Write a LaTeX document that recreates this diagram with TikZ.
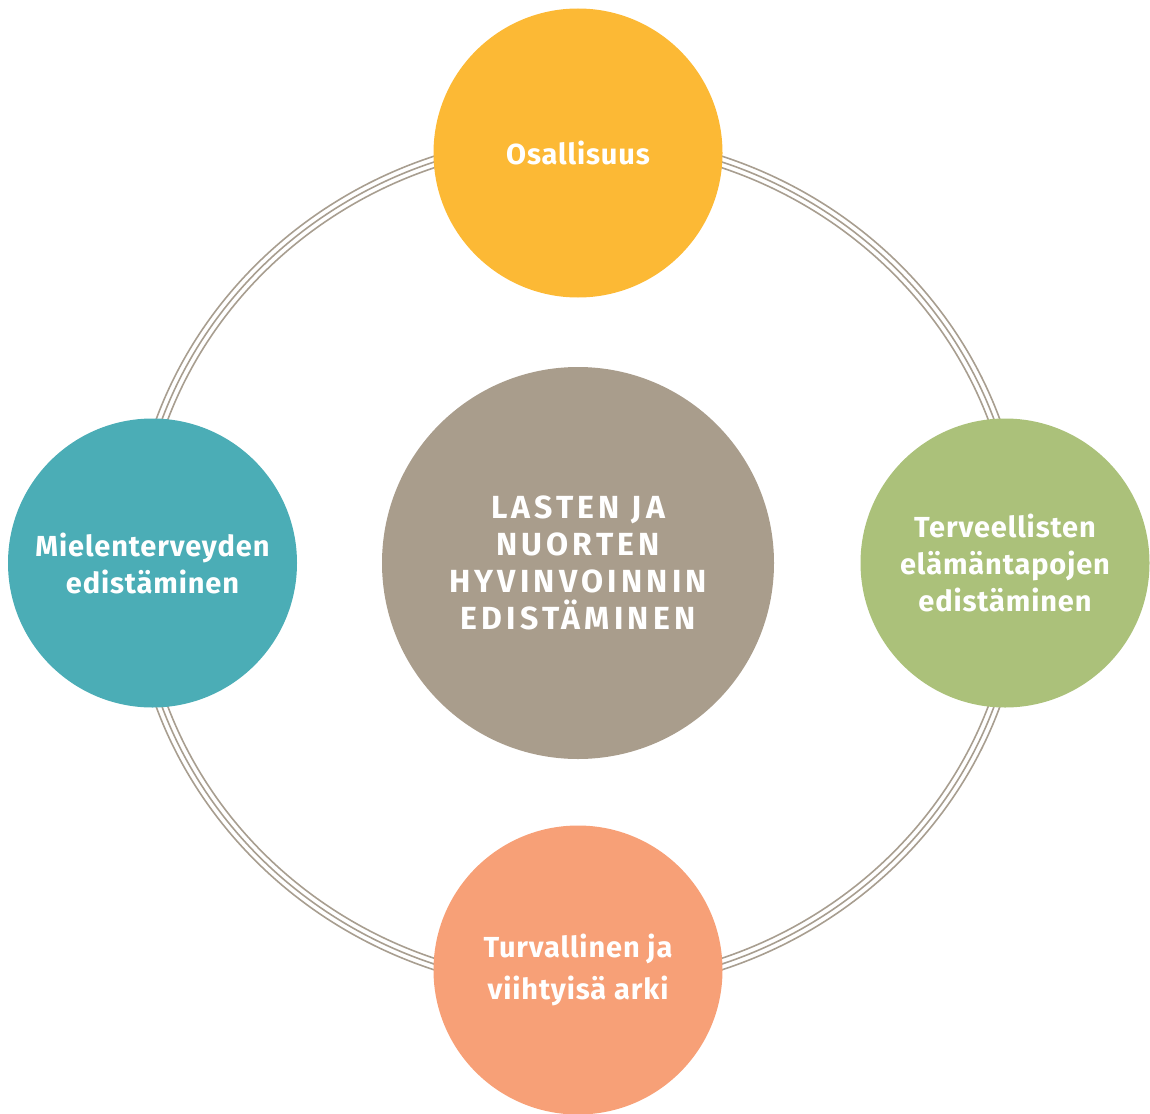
\documentclass[tikz,border=0pt]{standalone}
\usepackage{fontspec}
\setmainfont{Fira Sans}
\definecolor{ringgray}{HTML}{A89E90}
\definecolor{hubgray}{HTML}{A99D8C}
\definecolor{sunyellow}{HTML}{FCB935}
\definecolor{teal}{HTML}{4BADB6}
\definecolor{leafgreen}{HTML}{ABC17A}
\definecolor{salmon}{HTML}{F7A077}
\tikzset{
	ringline/.style={draw=ringgray,line width=1.6pt},
	blob/.style={circle,fill=#1,text=white,align=center,inner sep=0pt,minimum size=289pt,
		font=\bfseries\fontsize{29}{37}\selectfont\addfontfeature{LetterSpace=3}},
	hubblob/.style={circle,fill=hubgray,text=white,align=center,inner sep=0pt,minimum size=392pt,
		font=\bfseries\fontsize{32}{37}\selectfont\addfontfeature{LetterSpace=13}}
}

\begin{document}
\begin{tikzpicture}[x=1pt,y=-1pt]
	\useasboundingbox (0,0) rectangle (1150,1113);
	\coordinate (mid) at (578,563);
	\foreach \d in {-5.5,0,5.5}
		\draw[ringline] (mid) ellipse ({442+\d} and {424+\d});
	\node[hubblob] (hub) at (mid) {LASTEN JA\\NUORTEN\\HYVINVOINNIN\\EDISTÄMINEN};
	\node[blob=sunyellow] (osall) at (578,153) {Osallisuus};
	\node[blob=teal] (mieli) at (152.5,563) {Mielenterveyden\\edistäminen};
	\node[blob=leafgreen] (elama) at (1005,563) {Terveellisten\\elämäntapojen\\edistäminen};
	\node[blob=salmon] (arki) at (578,970) {Turvallinen ja\\[5pt]viihtyisä arki};
\end{tikzpicture}
\end{document}
